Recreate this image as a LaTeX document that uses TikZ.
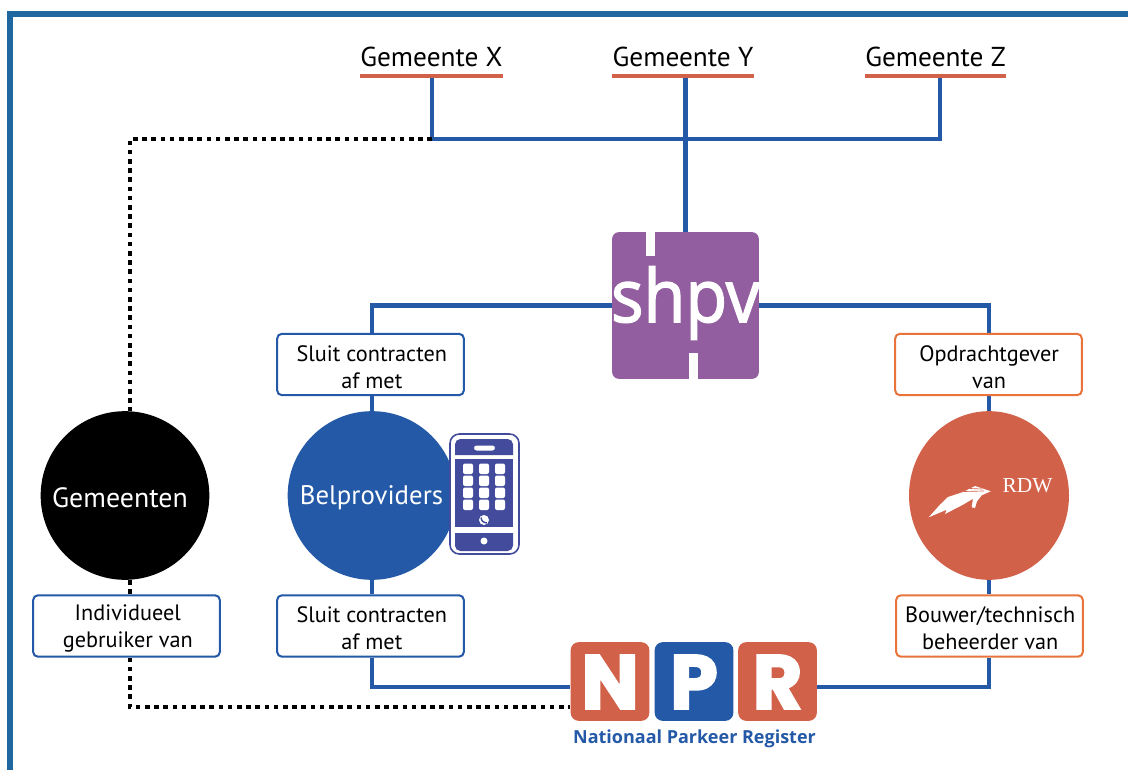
\documentclass[tikz,border=0pt]{standalone}
\usepackage{fontspec}
\usetikzlibrary{shapes.geometric,backgrounds}
\setmainfont{PT Sans}
\newfontfamily\logofont[RawFeature={embolden=2}]{Open Sans}
\newfontfamily\nprfont[RawFeature={embolden=3}]{Poppins}
\newfontfamily\capfont{Open Sans}
\newfontfamily\rdwfont{Liberation Serif}
\definecolor{frameblue}{HTML}{1F679F}
\definecolor{linkblue}{HTML}{2359A6}
\definecolor{tilered}{HTML}{D2614A}
\definecolor{boxorange}{HTML}{E8743B}
\definecolor{shpvpurple}{HTML}{925E9F}
\definecolor{phoneblue}{HTML}{434C9C}
\newcommand{\twolines}[3]{\rule{0pt}{15.5pt}\hspace*{#1}#2\\\hspace*{#1}#3}
\tikzset{
  x=0.75pt,y=-0.75pt,
  conn/.style={draw=linkblue,line width=3.3pt},
  dotline/.style={draw=black,line width=3.4pt,dash pattern=on 3.4pt off 3.5pt},
  under/.style={draw=tilered,line width=3.3pt},
  gemlabel/.style={inner sep=0pt,anchor=south,minimum width=105.75pt,text height=15pt,text depth=6.75pt,font=\fontsize{20.5}{22}\selectfont},
  labelbox/.style={draw=linkblue,fill=white,line width=1.5pt,rounded corners=3.5pt,minimum width=140pt,minimum height=46pt,inner sep=0pt,align=center,font=\fontsize{16.7}{20.3}\selectfont},
  orangebox/.style={labelbox,draw=boxorange},
  disc/.style={circle,minimum size=126.5pt,inner sep=0pt},
  disctext/.style={inner sep=0pt,text=white},
  tile/.style={rounded corners=6pt,minimum size=59pt,inner sep=0pt},
  tileletter/.style={inner sep=0pt,text=white,font=\nprfont\bfseries\fontsize{57}{57}\selectfont},
  keypad/.style={fill=white,rounded corners=1.5pt},
}
\begin{document}
\begin{tikzpicture}
\useasboundingbox (0,0) rectangle (1128,770);
% frame
\draw[frameblue,line width=4.5pt] (10,770) -- (10,14) -- (1128,14);

% municipalities
\node[gemlabel] (gx) at (431.5,76) {Gemeente X};
\node[gemlabel] (gy) at (683,76) {Gemeente Y};
\node[gemlabel] (gz) at (935.5,76) {Gemeente Z};

% central logo
\node[fill=shpvpurple,rounded corners=5pt,minimum size=110pt,inner sep=0pt] (shpv) at (685.5,305.5) {};
\node[inner sep=0pt,text=white] (shpvtxt) at (685.5,303) {\logofont\scalebox{0.93}[1]{\fontsize{55}{55}\selectfont shpv}};
\fill[white] (646,232) rectangle (655,256);
\fill[shpvpurple] (689,343) rectangle (698,353);
\fill[white] (689,353) rectangle (698,379);

% circles
\node[disc,fill=black] (gem) at (125,495.5) {};
\node[disctext,font=\fontsize{20.9}{22}\selectfont] (gemtxt) at (120,497.5) {Gemeenten};
\node[disc,fill=linkblue] (bel) at (372,495.5) {};
\node[disctext,font=\fontsize{20.1}{22}\selectfont] (beltxt) at (371.5,498) {Belproviders};
\node[ellipse,fill=tilered,minimum width=120pt,minimum height=126.5pt,inner sep=0pt] (rdw) at (989,495.5) {};
\node[text=white,inner sep=0pt,font=\rdwfont\fontsize{16}{16}\selectfont] (rdwtxt) at (1027.5,486) {RDW};
\fill[white] (928.7,517.3) -- (940,504.7) -- (948,497) -- (963,492) -- (967,490) -- (975,486) -- (990.7,491.3) -- (981.7,495.3) -- (977,501.3) -- (975,508) -- (971.7,507.3) -- (973,498.7) -- (963,504.7) -- (945,514) -- (946.7,509.7) -- cycle;
\draw[tilered,line width=.5pt] (964,491.5) -- (984,491) (970,488.5) -- (982,489);

% phone
\draw[phoneblue,fill=white,line width=1.2pt,rounded corners=7pt] (450,434) rectangle (519,554);
\fill[phoneblue] (455,455) [rounded corners=4pt] -- (455,439) -- (513,439) [sharp corners] -- (513,455) -- cycle;
\fill[phoneblue] (455,459) rectangle (513,527);
\fill[phoneblue] (455,533) -- (513,533) [rounded corners=4pt] -- (513,551) -- (455,551) [sharp corners] -- cycle;
\fill[white,rounded corners=2pt] (474,445.5) rectangle (495,450.5);
\foreach \cx in {468,484,500}{\foreach \cy in {469,481,493,505}{\fill[keypad] (\cx-5,\cy-5.5) rectangle (\cx+5,\cy+5);}}
\fill[white] (484,520) circle[radius=5];
\draw[phoneblue,line width=1.1pt] (481,517.5) .. controls (481.5,521) and (483,522.5) .. (487,523);
\fill[white] (484,541) circle[radius=3.5];

% labelled boxes
\node[labelbox] (b1) at (370.5,364.5) {\twolines{2pt}{Sluit contracten}{af met}};
\node[labelbox] (b2) at (370.5,626) {\twolines{2pt}{Sluit contracten}{af met}};
\node[labelbox] (b3) at (126.5,626) {\twolines{2pt}{Individueel}{gebruiker van}};
\node[orangebox] (b4) at (988.5,364.5) {\twolines{1pt}{Opdrachtgever}{van}};
\node[orangebox] (b5) at (989.5,626) {\twolines{1pt}{Bouwer/technisch}{beheerder van}};

% NPR tiles
\node[tile,fill=tilered] (n) at (610,681.5) {};
\node[tile,fill=linkblue] (p) at (694,681.5) {};
\node[tile,fill=tilered] (r) at (777.5,681.5) {};
\node[tileletter] (nl) at (610,682) {N};
\node[tileletter] (pl) at (694,682) {P};
\node[tileletter] (rl) at (777.5,682) {R};
\node[inner sep=0pt,text=linkblue,font=\capfont\bfseries\fontsize{13.5}{15}\selectfont] (nprcap) at (694.5,739) {Nationaal Parkeer Register};

\coordinate (jl) at (432,139);
\coordinate (jr) at (940,139);
\coordinate (dl) at (130,139);
\coordinate (dlb) at (130,707);
\coordinate (npry) at (700,687);

\begin{scope}[on background layer]
\fill[white] (0,0) rectangle (1128,770);
\draw[conn] (gx.south -| jl) -- (jl) -- (jr) -- (gz.south -| jr);
\draw[conn] (gy.south -| shpv.north) -- (shpv.north);
\draw[conn] (shpv.west) -- (shpv.west -| bel.north) -- (b1.north -| bel.north);
\draw[conn] (b1.south -| bel.north) -- (bel.north);
\draw[conn] (bel.south) -- (b2.north -| bel.south);
\draw[conn] (b2.south -| bel.south) -- (npry -| bel.south) -- (npry -| n.west);
\draw[conn] (shpv.east) -- (shpv.east -| rdw.north) -- (b4.north -| rdw.north);
\draw[conn] (b4.south -| rdw.north) -- (rdw.north);
\draw[conn] (rdw.south) -- (b5.north -| rdw.south);
\draw[conn] (npry -| r.east) -- (npry -| rdw.south) -- (b5.south -| rdw.south);
\draw[dotline] (jl) -- (dl) -- (dl |- gem.north);
\draw[dotline] (dl |- gem.south) -- (dl |- b3.north);
\draw[dotline] (dl |- b3.south) -- (dlb) -- (dlb -| n.west);
\end{scope}
\draw[under] (gx.south west) -- (gx.south east);
\draw[under] (gy.south west) -- (gy.south east);
\draw[under] (gz.south west) -- (gz.south east);
\end{tikzpicture}
\end{document}
